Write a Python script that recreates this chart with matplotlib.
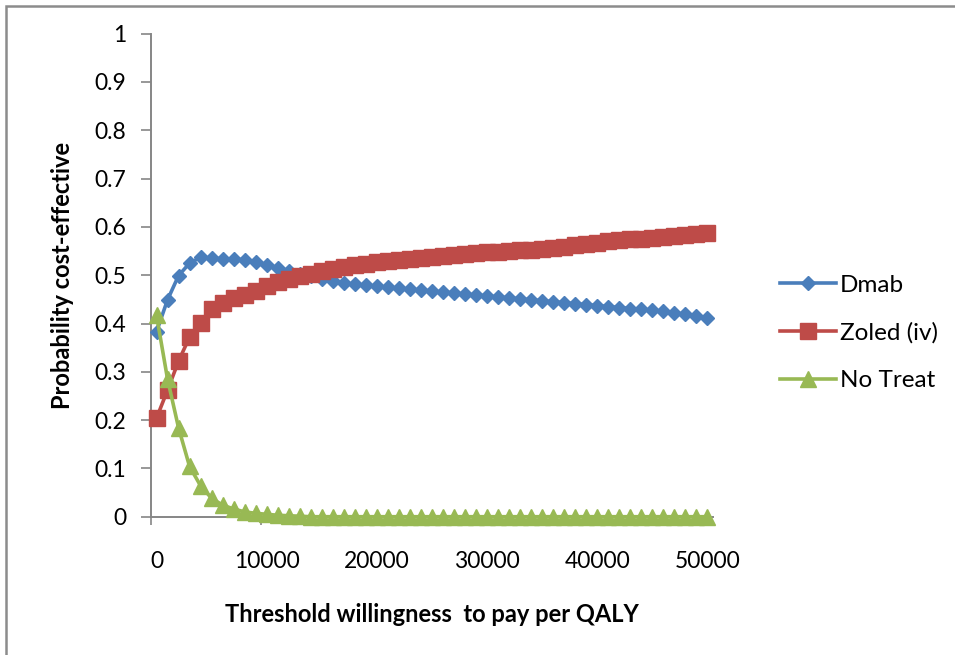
import matplotlib
matplotlib.use("Agg")
import matplotlib.pyplot as plt
from matplotlib.patches import Rectangle

plt.rcParams['font.family'] = ['Lato', 'DejaVu Sans']

# willingness-to-pay thresholds (one point every 1000)
wtp = list(range(0, 50001, 1000))

dmab = [0.383, 0.449, 0.499, 0.525, 0.537, 0.535, 0.534, 0.533, 0.532, 0.527,
        0.521, 0.514, 0.508, 0.503, 0.498, 0.493, 0.488, 0.484, 0.481, 0.479,
        0.477, 0.475, 0.473, 0.471, 0.469, 0.467, 0.465, 0.463, 0.461, 0.459,
        0.457, 0.455, 0.453, 0.451, 0.449, 0.447, 0.445, 0.443, 0.441, 0.439,
        0.437, 0.435, 0.433, 0.431, 0.429, 0.427, 0.425, 0.422, 0.419, 0.416,
        0.412]
zoled = [0.204, 0.262, 0.322, 0.372, 0.402, 0.430, 0.442, 0.452, 0.460, 0.468,
         0.478, 0.486, 0.492, 0.498, 0.503, 0.508, 0.513, 0.517, 0.521, 0.524,
         0.527, 0.529, 0.531, 0.533, 0.536, 0.538, 0.540, 0.542, 0.543, 0.545,
         0.547, 0.548, 0.550, 0.552, 0.553, 0.555, 0.557, 0.559, 0.562, 0.564,
         0.567, 0.570, 0.572, 0.574, 0.575, 0.577, 0.579, 0.581, 0.583, 0.586,
         0.588]
no_treat = [0.417, 0.285, 0.184, 0.104, 0.064, 0.038, 0.024, 0.016, 0.010, 0.007,
            0.005, 0.003, 0.002, 0.001, 0.0, 0.0, 0.0, 0.0, 0.0, 0.0,
            0.0, 0.0, 0.0, 0.0, 0.0, 0.0, 0.0, 0.0, 0.0, 0.0,
            0.0, 0.0, 0.0, 0.0, 0.0, 0.0, 0.0, 0.0, 0.0, 0.0,
            0.0, 0.0, 0.0, 0.0, 0.0, 0.0, 0.0, 0.0, 0.0, 0.0,
            0.0]

x_labels = [0, 10000, 20000, 30000, 40000, 50000]
y_ticks = [0, 0.1, 0.2, 0.3, 0.4, 0.5, 0.6, 0.7, 0.8, 0.9, 1]

W, H = 955, 655
fig = plt.figure(figsize=(W / 100, H / 100), dpi=100)
fig.patches.append(Rectangle((6 / W, -0.1), 1.2, (H - 6) / H + 0.1,
                             transform=fig.transFigure, fill=False,
                             edgecolor='#8c8c8c', linewidth=1.8))

ax = fig.add_axes([151 / W, (H - 516.7) / H, (713 - 151) / W, (516.7 - 33.7) / H])

ax.plot(wtp, dmab, color='#4a7ebb', lw=2.6, marker='D', ms=7.4, label='Dmab',
        clip_on=False, zorder=3)
ax.plot(wtp, zoled, color='#be4b48', lw=2.6, marker='s', ms=11.5, label='Zoled (iv)',
        clip_on=False, zorder=4)
ax.plot(wtp, no_treat, color='#98b954', lw=2.6, marker='^', ms=11, label='No Treat',
        clip_on=False, zorder=5)

ax.set_xlim(-500, 50500)
ax.set_ylim(0, 1)
ax.set_xticks(x_labels)
ax.set_xticks([-500 + 10000 * i for i in range(6)], minor=True)
ax.tick_params(axis='x', which='major', length=0, pad=25, labelsize=16.5)
ax.tick_params(axis='x', which='minor', length=6, color='#868686', width=1.2)
ax.set_yticks(y_ticks)
ax.set_yticklabels(['0' if v == 0 else ('1' if v == 1 else f'{v:.1f}') for v in y_ticks])
ax.tick_params(axis='y', length=7.2, color='#868686', width=1.2, pad=10.5, labelsize=16.5)

for s in ['top', 'right']:
    ax.spines[s].set_visible(False)
for s in ['left', 'bottom']:
    ax.spines[s].set_color('#868686')
    ax.spines[s].set_linewidth(1.4)

ax.set_xlabel('Threshold willingness  to pay per QALY', fontsize=17,
              fontweight='bold', labelpad=22)
ax.set_ylabel('Probability cost-effective', fontsize=17, fontweight='bold',
              labelpad=15)

ax.legend(loc='center left', bbox_to_anchor=(780 / W, (H - 333) / H),
          bbox_transform=fig.transFigure, frameon=False, fontsize=17.5,
          handlelength=2.3, handletextpad=0.15, labelspacing=1.08,
          borderpad=0, borderaxespad=0)

fig.savefig('out.png', dpi=100)
